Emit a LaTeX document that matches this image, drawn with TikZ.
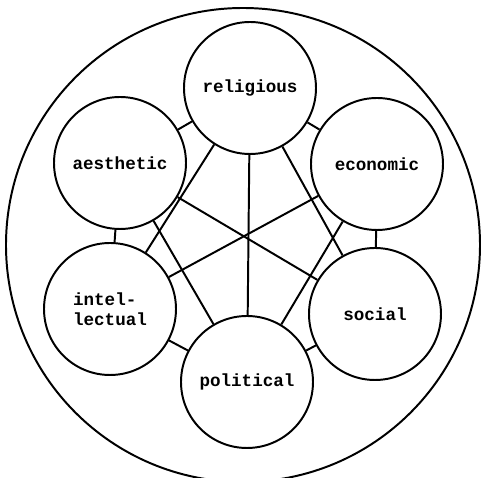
\documentclass[tikz,border=0pt]{standalone}
\usepackage{fontspec}
\setmonofont{Liberation Mono}
\usepackage{tikz}

\begin{document}
\begin{tikzpicture}[x=1cm, y=1cm, line width=1.4pt,
    value/.style={circle, draw, minimum size=3.3cm, inner sep=0pt,
      font=\ttfamily\bfseries\fontsize{12.5}{14}\selectfont},
    link/.style={line width=1.4pt}]
  % page frame; the big ring runs off the bottom edge
  \useasboundingbox (0,0) rectangle (12.025,11.95);
  \clip (0,0) rectangle (12.025,11.95);

  % the enclosing ring
  \draw (6.075,5.825) circle (5.925);

  % the six values
  \node[value] (rel) at (6.25,9.75)  {religious};
  \node[value] (aes) at (3.0,7.875)  {aesthetic};
  \node[value] (eco) at (9.425,7.85) {economic};
  \node[value, align=left] (int) at (2.75,4.225) {intel-\\lectual};
  \node[value] (soc) at (9.375,4.1)  {social};
  \node[value] (pol) at (6.175,2.4)  {political};

  % neighbours round the ring
  \draw[link] (rel) -- (aes);
  \draw[link] (rel) -- (eco);
  \draw[link] (aes) -- (int);
  \draw[link] (eco) -- (soc);
  \draw[link] (int) -- (pol);
  \draw[link] (soc) -- (pol);

  % links across the middle
  \draw[link] (rel) -- (pol);
  \draw[link] (rel) -- (int);
  \draw[link] (rel) -- (soc);
  \draw[link] (aes) -- (soc);
  \draw[link] (aes) -- (pol);
  \draw[link] (eco) -- (int);
  \draw[link] (eco) -- (pol);
\end{tikzpicture}
\end{document}
